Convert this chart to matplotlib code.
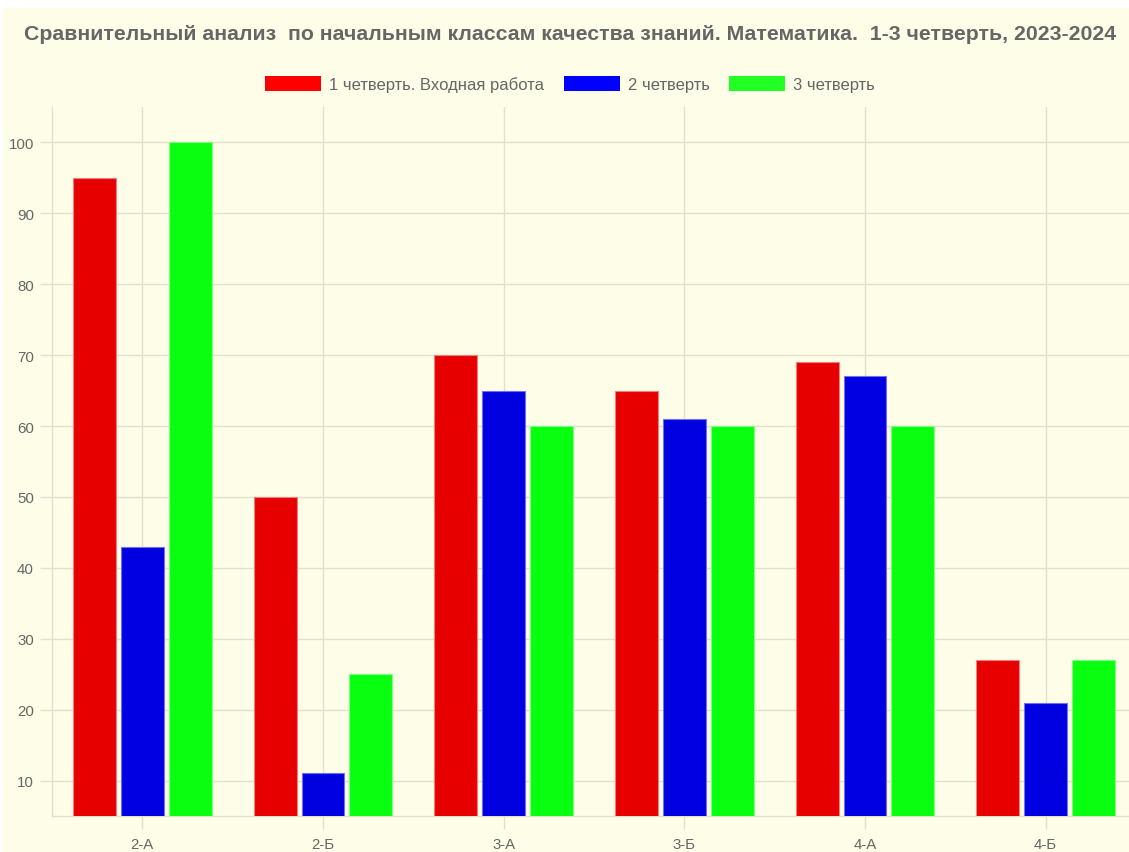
"""
Quality-of-knowledge comparison, maths, primary classes, quarters 1-3 of 2023-2024.
Grouped bar chart rebuilt from a Chart.js screenshot.
"""

import matplotlib

matplotlib.use("Agg")
import matplotlib.pyplot as plt
import numpy as np
from matplotlib.patches import Rectangle

# --- data ---
classes = ["2-А", "2-Б", "3-А", "3-Б", "4-А", "4-Б"]
series_names = ["1 четверть. Входная работа", "2 четверть", "3 четверть"]
q1_values = [95, 50, 70, 65, 69, 27]
q2_values = [43, 11, 65, 61, 67, 21]
q3_values = [100, 25, 60, 60, 60, 27]
y_ticks = [10, 20, 30, 40, 50, 60, 70, 80, 90, 100]

title = "Сравнительный анализ  по начальным классам качества знаний. Математика.  1-3 четверть, 2023-2024"

# --- styling ---
BG = "#fdfde8"
GRID = "#e0e0cc"
TEXT = "#666666"
fills = ["#e60000", "#0000e0", "#08ff10"]
edges = ["#f08080", "#7070f0", "#80ff80"]
legend_fills = ["#ff0000", "#0000ff", "#22ff22"]

plt.rcParams["font.family"] = ["Liberation Sans", "DejaVu Sans"]

fig = plt.figure(figsize=(11.29, 8.53), dpi=100)
fig.patch.set_facecolor("white")
# the chart canvas starts a few pixels in from the top/left
fig.patches.append(
    Rectangle((3 / 1129, 0), 1, 1 - 9 / 853, transform=fig.transFigure,
              facecolor=BG, edgecolor="none", zorder=-10)
)

W, H = 1129, 853
left, right, top, bottom = 52, 1136, 108, 817
ax = fig.add_axes([left / W, 1 - bottom / H, (right - left) / W, (bottom - top) / H])
ax.set_facecolor("none")

x = np.arange(len(classes))
offset = 0.265
width = 0.238
all_series = [q1_values, q2_values, q3_values]
for i, vals in enumerate(all_series):
    ax.bar(x + (i - 1) * offset, vals, width=width, color=fills[i],
           edgecolor=edges[i], linewidth=0.8, zorder=3)

ax.set_xlim(-0.5, len(classes) - 0.5)
ax.set_ylim(5, 105)
ax.set_xticks(x)
ax.set_xticklabels(classes)
ax.set_yticks(y_ticks)

ax.grid(True, color=GRID, linewidth=1, zorder=0)
for side in ["top", "right"]:
    ax.spines[side].set_visible(False)
for side in ["left", "bottom"]:
    ax.spines[side].set_color(GRID)
    ax.spines[side].set_linewidth(1)

ax.tick_params(axis="both", colors=GRID, labelcolor=TEXT, labelsize=10.8, length=9, width=1)
ax.tick_params(axis="x", pad=6)
ax.tick_params(axis="y", pad=4)

fig.text(0.5 * (28 + 1113) / W, 1 - 35 / H, title, ha="center", va="center",
         fontsize=15.3, fontweight="bold", color=TEXT)

handles = [Rectangle((0, 0), 1, 1, facecolor=legend_fills[i], edgecolor="none")
           for i in range(3)]
fig.legend(handles, series_names, loc="center", bbox_to_anchor=(570 / W, 1 - 85 / H),
           ncol=3, frameon=False, fontsize=12, labelcolor=TEXT,
           handlelength=3.35, handleheight=1.0, handletextpad=0.48, columnspacing=1.2)

fig.savefig("out.png", dpi=100, facecolor=fig.get_facecolor())
